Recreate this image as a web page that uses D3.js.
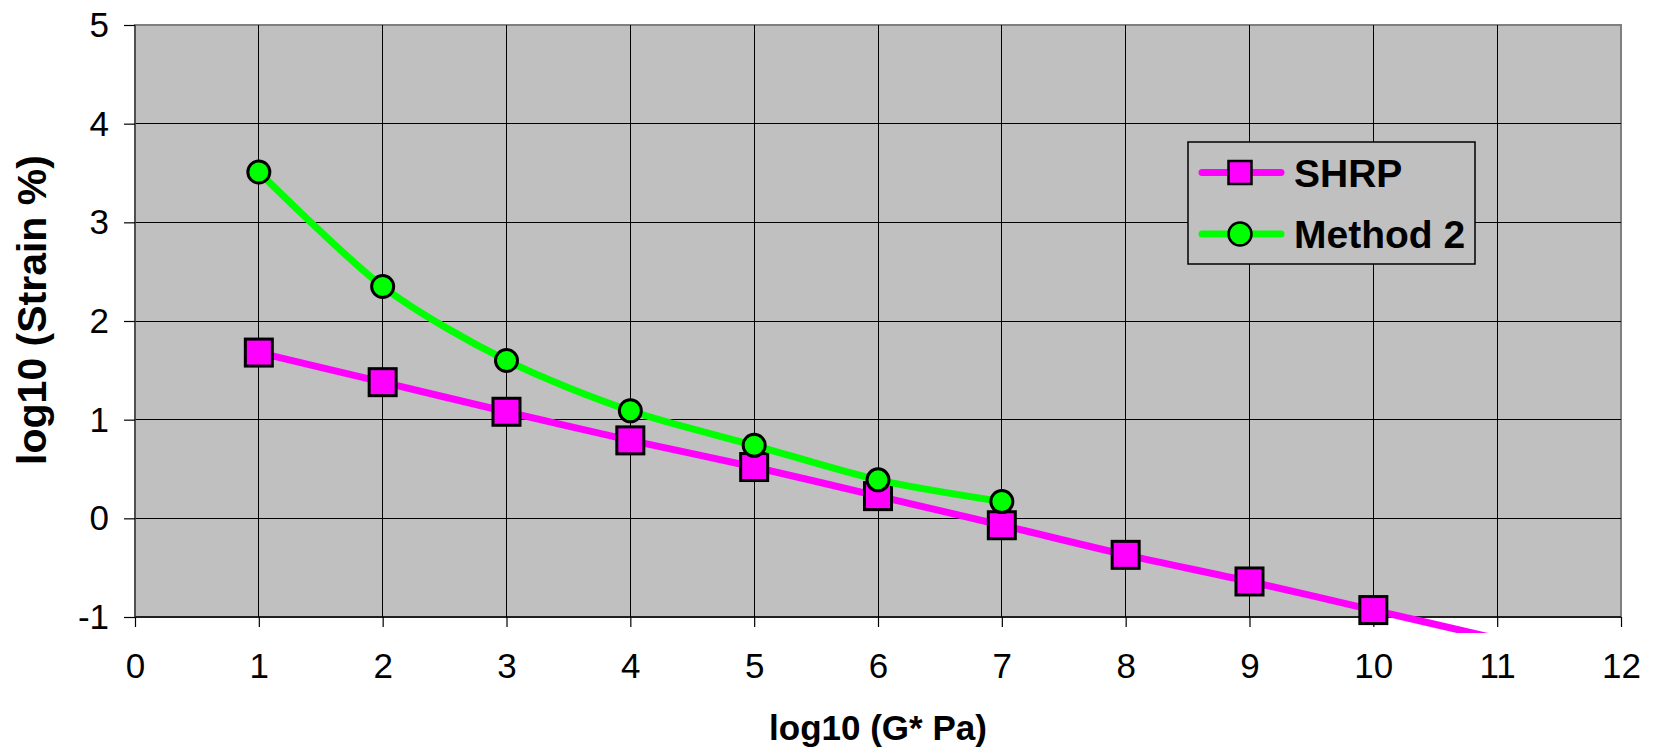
<!DOCTYPE html>
<html>
<head>
<meta charset="utf-8">
<script src="https://cdn.jsdelivr.net/npm/d3@7"></script>
<style>
  html, body { margin: 0; padding: 0; background: #fff; }
  svg { display: block; font-family: "Liberation Sans", Arial, sans-serif; }
  .axis text { font-family: "Liberation Sans", Arial, sans-serif; font-size: 35px; fill: #000; }
</style>
</head>
<body>
<svg id="chart" width="1656" height="749"></svg>
<script>
// ---- data ----
const xValues      = [1, 2, 3, 4, 5, 6, 7, 8, 9, 10, 11];
const shrpValues   = [1.68, 1.38, 1.08, 0.79, 0.52, 0.225, -0.07, -0.37, -0.64, -0.93, -1.22];
const method2X     = [1, 2, 3, 4, 5, 6, 7];
const method2Vals  = [3.51, 2.35, 1.60, 1.09, 0.74, 0.39, 0.17];
const xTicks       = [0, 1, 2, 3, 4, 5, 6, 7, 8, 9, 10, 11, 12];
const yTicks       = [-1, 0, 1, 2, 3, 4, 5];
const seriesNames  = ["SHRP", "Method 2"];
const xTitle = "log10 (G* Pa)";
const yTitle = "log10 (Strain %)";

// ---- layout ----
const svg = d3.select("#chart");
const plot = { left: 135, right: 1621, top: 25, bottom: 617 };
const x = d3.scaleLinear().domain([0, 12]).range([plot.left, plot.right]);
const y = d3.scaleLinear().domain([-1, 5]).range([plot.bottom, plot.top]);

const MAGENTA = "#FF00FF", GREEN = "#00FF00", BG = "#C0C0C0";

// plot background
svg.append("rect")
  .attr("x", plot.left).attr("y", plot.top)
  .attr("width", plot.right - plot.left).attr("height", plot.bottom - plot.top)
  .attr("fill", BG).attr("stroke", "#808080").attr("stroke-width", 2);

// gridlines
const grid = svg.append("g").attr("shape-rendering", "crispEdges");
grid.selectAll("line.v").data(xTicks.filter(d => d > 0 && d < 12)).join("line")
  .attr("x1", d => x(d)).attr("x2", d => x(d))
  .attr("y1", plot.top).attr("y2", plot.bottom)
  .attr("stroke", "#000").attr("stroke-width", 1);
grid.selectAll("line.h").data(yTicks.filter(d => d > -1 && d < 5)).join("line")
  .attr("x1", plot.left).attr("x2", plot.right)
  .attr("y1", d => y(d)).attr("y2", d => y(d))
  .attr("stroke", "#000").attr("stroke-width", 1);

// axes
const fmt = d => String(d);
const xAxis = d3.axisBottom(x).tickValues(xTicks).tickSize(10).tickPadding(26).tickFormat(fmt);
const yAxis = d3.axisLeft(y).tickValues(yTicks).tickSize(11).tickPadding(15).tickFormat(fmt);

const gx = svg.append("g").attr("class", "axis").attr("transform", `translate(0,${plot.bottom})`).call(xAxis);
const gy = svg.append("g").attr("class", "axis").attr("transform", `translate(${plot.left},0)`).call(yAxis);
[gx, gy].forEach(g => {
  g.attr("font-size", 35).attr("font-family", "'Liberation Sans', Arial, sans-serif");
  g.select(".domain").attr("stroke", "#000").attr("stroke-width", 1.5);
  g.selectAll(".tick line").attr("stroke", "#000").attr("stroke-width", 1.2);
  g.selectAll(".tick text").attr("fill", "#000").attr("font-size", 35);
});
gx.select(".domain").attr("d", `M${plot.left},0H${plot.right}`);
gy.select(".domain").attr("d", `M0,${plot.top}V${plot.bottom}`).attr("stroke", "#404040");
gx.selectAll(".tick text").attr("dy", "0.71em");
gy.selectAll(".tick text").attr("dy", "0.33em");

// clip for lines
svg.append("clipPath").attr("id", "lineclip")
  .append("rect").attr("x", 0).attr("y", 0).attr("width", 1656).attr("height", 633);

const line = d3.line().x(d => x(d[0])).y(d => y(d[1])).curve(d3.curveCardinal.tension(0.15));

const shrpData = xValues.map((v, i) => [v, shrpValues[i]]);
const m2Data = method2X.map((v, i) => [v, method2Vals[i]]);
const inRange = d => d[0] >= 0 && d[0] <= 12 && d[1] >= -1 && d[1] <= 5;

// SHRP
svg.append("path").datum(shrpData).attr("d", line)
  .attr("fill", "none").attr("stroke", MAGENTA).attr("stroke-width", 7)
  .attr("clip-path", "url(#lineclip)");
const sq = 27;
svg.append("g").selectAll("rect").data(shrpData.filter(inRange)).join("rect")
  .attr("x", d => x(d[0]) - sq / 2).attr("y", d => y(d[1]) - sq / 2)
  .attr("width", sq).attr("height", sq)
  .attr("fill", MAGENTA).attr("stroke", "#000").attr("stroke-width", 3);

// Method 2
svg.append("path").datum(m2Data).attr("d", line)
  .attr("fill", "none").attr("stroke", GREEN).attr("stroke-width", 7)
  .attr("clip-path", "url(#lineclip)");
svg.append("g").selectAll("circle").data(m2Data.filter(inRange)).join("circle")
  .attr("cx", d => x(d[0])).attr("cy", d => y(d[1])).attr("r", 11)
  .attr("fill", GREEN).attr("stroke", "#000").attr("stroke-width", 3);

// legend
const lg = svg.append("g");
lg.append("rect").attr("x", 1188).attr("y", 142).attr("width", 287).attr("height", 122)
  .attr("fill", BG).attr("stroke", "#000").attr("stroke-width", 1.5);
const rows = [
  { name: seriesNames[0], color: MAGENTA, shape: "square", cy: 172.5 },
  { name: seriesNames[1], color: GREEN, shape: "circle", cy: 234 }
];
rows.forEach(r => {
  lg.append("line").attr("x1", 1202).attr("x2", 1281).attr("y1", r.cy).attr("y2", r.cy)
    .attr("stroke", r.color).attr("stroke-width", 7).attr("stroke-linecap", "round");
  if (r.shape === "square") {
    lg.append("rect").attr("x", 1240 - 11.5).attr("y", r.cy - 11.5).attr("width", 23).attr("height", 23)
      .attr("fill", r.color).attr("stroke", "#000").attr("stroke-width", 2.5);
  } else {
    lg.append("circle").attr("cx", 1240).attr("cy", r.cy).attr("r", 11.5)
      .attr("fill", r.color).attr("stroke", "#000").attr("stroke-width", 2.5);
  }
  lg.append("text").attr("x", 1294).attr("y", r.cy).attr("dy", "0.36em")
    .attr("font-size", 39).attr("font-weight", "bold").attr("fill", "#000")
    .text(r.name);
});

// axis titles
svg.append("text").attr("x", (plot.left + plot.right) / 2).attr("y", 740)
  .attr("text-anchor", "middle").attr("font-size", 35).attr("font-weight", "bold")
  .attr("fill", "#000").text(xTitle);
svg.append("text").attr("transform", `translate(46,310) rotate(-90)`)
  .attr("text-anchor", "middle").attr("font-size", 41).attr("font-weight", "bold")
  .attr("fill", "#000").text(yTitle);
</script>
</body>
</html>
